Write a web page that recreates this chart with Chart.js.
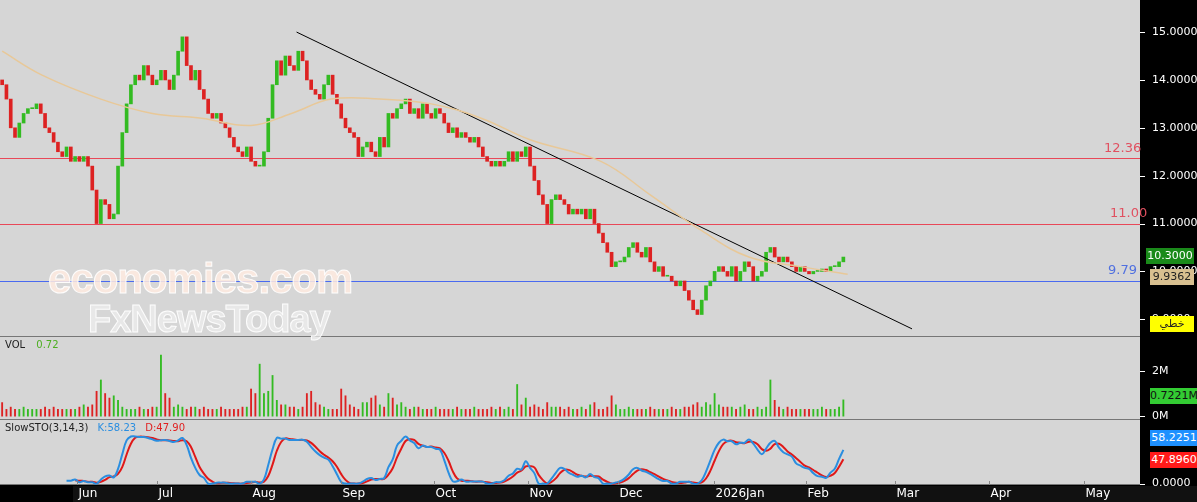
<!DOCTYPE html>
<html><head><meta charset="utf-8">
<script src="https://cdn.jsdelivr.net/npm/chart.js@4"></script>
<style>
body{margin:0;background:#000;width:1197px;height:502px;overflow:hidden;font-family:Tahoma,"DejaVu Sans",sans-serif;position:relative}
canvas{position:absolute;left:0}
.lab{position:absolute;font-size:12px;white-space:nowrap}
.box{position:absolute;left:1146px;width:48px;height:16px;font-size:11px;line-height:16px;text-align:center}
.wm{position:absolute;font-family:"Liberation Sans",Arial,sans-serif;font-weight:bold;color:rgba(255,235,225,0.85);-webkit-text-stroke:1px rgba(255,255,255,0.9);letter-spacing:-1px}
</style></head><body>
<canvas id="c1" width="1197" height="337" style="top:0"></canvas>
<canvas id="c2" width="1197" height="83" style="top:337px"></canvas>
<canvas id="c3" width="1197" height="82" style="top:420px"></canvas>
<div class="wm" style="left:48px;top:255px;font-size:42px">economies.com</div>
<div class="wm" style="left:88px;top:298px;font-size:38px;color:rgba(240,240,240,0.7)">FxNewsToday</div>
<div class="lab" style="left:1104px;top:140px;color:#e05060;font-size:13px">12.36</div>
<div class="lab" style="left:1110px;top:205px;color:#e05060;font-size:13px">11.00</div>
<div class="lab" style="left:1108px;top:262px;color:#5070e0;font-size:13px">9.79</div>
<div class="box" style="top:248px;background:#1a8a1a;color:#fff">10.3000</div>
<div class="box" style="top:269px;background:#d8c090;color:#222;left:1150px;width:44px">9.9362</div>
<div class="box" style="top:316px;background:#ffff00;color:#222;left:1150px;width:44px">خطي</div>
<div class="lab" style="left:5px;top:339px;color:#222;font-size:10px">VOL <span style="color:#4caf20;margin-left:8px">0.72</span></div>
<div class="box" style="top:388px;background:#33cc33;color:#111;left:1150px">0.7221M</div>
<div class="lab" style="left:5px;top:422px;color:#222;font-size:10px">SlowSTO(3,14,3) <span style="color:#2a8ee0;margin-left:6px">K:58.23</span> <span style="color:#e02020;margin-left:6px">D:47.90</span></div>
<div class="box" style="top:430px;background:#1e90ff;color:#fff;left:1150px">58.2251</div>
<div class="box" style="top:452px;background:#ff1a1a;color:#fff;left:1150px">47.8960</div>
<script>
const closes=[13.9,13.6,13.0,12.8,13.1,13.3,13.4,13.4,13.5,13.3,
13.0,12.9,12.7,12.5,12.4,12.6,12.3,12.4,12.3,12.4,
12.2,11.7,11.0,11.5,11.4,11.1,11.2,12.2,12.9,13.5,
13.9,14.1,14.0,14.3,14.1,13.9,14.0,14.2,14.0,13.8,
14.1,14.6,14.9,14.3,14.0,14.2,13.8,13.6,13.3,13.2,
13.3,13.1,13.0,12.8,12.6,12.5,12.4,12.6,12.3,12.2,
12.2,12.5,13.2,13.9,14.4,14.1,14.5,14.3,14.2,14.6,
14.4,14.0,13.8,13.7,13.6,13.9,14.1,13.7,13.5,13.2,
13.0,12.9,12.8,12.4,12.6,12.7,12.5,12.4,12.8,12.6,
13.3,13.2,13.4,13.5,13.6,13.3,13.4,13.2,13.5,13.3,
13.2,13.4,13.3,13.1,12.9,13.0,12.8,12.9,12.8,12.7,
12.8,12.6,12.4,12.3,12.2,12.3,12.2,12.3,12.5,12.3,
12.5,12.4,12.6,12.2,11.9,11.6,11.4,11.0,11.5,11.6,
11.5,11.4,11.2,11.3,11.2,11.3,11.1,11.3,11.0,10.8,
10.6,10.4,10.1,10.2,10.2,10.3,10.5,10.6,10.4,10.3,
10.5,10.2,10.0,10.1,9.9,9.9,9.8,9.7,9.8,9.6,
9.4,9.2,9.1,9.4,9.7,9.8,10.0,10.1,10.0,9.9,
10.1,9.8,10.0,10.2,10.1,9.8,9.9,10.0,10.4,10.5,
10.3,10.2,10.3,10.2,10.1,10.0,10.1,10.0,9.95,10.0,
10.0,10.05,10.0,10.1,10.1,10.2,10.3];
const firstOpen=14.0;
const volumes=[0.6,0.3,0.4,0.3,0.3,0.4,0.3,0.3,0.3,0.3,
0.4,0.3,0.4,0.3,0.3,0.3,0.3,0.3,0.4,0.5,
0.4,0.5,1.1,1.6,1.0,0.8,0.9,0.7,0.4,0.3,
0.3,0.3,0.4,0.3,0.3,0.4,0.4,2.7,1.0,0.8,
0.4,0.5,0.4,0.3,0.4,0.4,0.3,0.4,0.3,0.3,
0.3,0.4,0.3,0.3,0.3,0.3,0.4,0.4,1.2,1.0,
2.3,1.0,1.1,1.8,0.7,0.5,0.5,0.4,0.4,0.3,
0.4,1.0,1.1,0.6,0.5,0.4,0.3,0.3,0.3,1.2,
0.9,0.5,0.4,0.3,0.6,0.6,0.8,0.9,0.5,0.4,
1.0,0.8,0.5,0.6,0.4,0.3,0.4,0.4,0.3,0.3,
0.3,0.4,0.3,0.3,0.3,0.3,0.4,0.3,0.3,0.3,
0.4,0.3,0.3,0.3,0.4,0.3,0.4,0.3,0.4,0.3,
1.4,0.5,0.8,0.4,0.5,0.4,0.3,0.6,0.4,0.4,
0.4,0.3,0.4,0.3,0.3,0.4,0.3,0.5,0.6,0.3,
0.3,0.4,0.9,0.5,0.3,0.3,0.4,0.3,0.3,0.3,
0.3,0.4,0.3,0.3,0.3,0.3,0.4,0.3,0.3,0.4,
0.4,0.5,0.6,0.4,0.6,0.5,1.0,0.5,0.4,0.4,
0.4,0.3,0.4,0.5,0.3,0.3,0.4,0.3,0.4,1.6,
0.7,0.4,0.3,0.4,0.3,0.3,0.3,0.3,0.3,0.3,
0.3,0.4,0.3,0.3,0.3,0.4,0.72];
const maIdx=[0,9.3,23,35,46.5,58,67.4,76.7,88,100,111.6,123,139.5,151,163,174,186,197];
const maVal=[14.6,14.1,13.6,13.3,13.2,13.05,13.3,13.6,13.6,13.5,13.2,12.75,12.3,11.6,10.85,10.3,10.1,9.94];
const trendIdx=[68.6,212];
const trendVal=[15.0,8.8];
const levelVals=[12.36,11.0,9.79];
const levelCols=['#e84858','#e84858','#4a6af0'];
const priceTicks=[9,10,11,12,13,14,15];
const monthIdx=[17.4,36,58,79,100.7,122.6,143.5,165.8,187.2,208,230,252];
const monthLab=['Jun','Jul','Aug','Sep','Oct','Nov','Dec','2026Jan','Feb','Mar','Apr','May'];

const opens=closes.map((c,i)=>i?closes[i-1]:firstOpen);
const up=closes.map((c,i)=>c>=opens[i]);
const GREEN='#33bb22',RED='#dd2222',BG='#d6d6d6';
const XMAX=1140/4.3;
const bgPlugin={id:'bg',beforeDraw(ch){const {ctx,chartArea:a}=ch;ctx.save();ctx.fillStyle='#000';ctx.fillRect(0,0,ch.width,ch.height);ctx.fillStyle=BG;ctx.fillRect(a.left,a.top,a.right-a.left,a.bottom-a.top);ctx.strokeStyle='#777';ctx.beginPath();ctx.moveTo(0,a.bottom-0.5);ctx.lineTo(a.right,a.bottom-0.5);ctx.stroke();ctx.restore();}};
const levelPlugin={id:'lv',beforeDatasetsDraw(ch){const {ctx,chartArea:a,scales}=ch;ctx.save();ctx.lineWidth=1;levelVals.forEach((v,i)=>{const p=Math.round(scales.y.getPixelForValue(v))+0.5;ctx.strokeStyle=levelCols[i];ctx.beginPath();ctx.moveTo(a.left,p);ctx.lineTo(a.right,p);ctx.stroke();});ctx.restore();}};
function xScale(){return {type:'linear',min:-0.5,max:XMAX,display:false,offset:false};}
function yScale(min,max,ticks,fmt){return {position:'right',min,max,afterFit(s){s.width=57;s.paddingTop=0;s.paddingBottom=0},grid:{display:false},border:{display:false},
 afterBuildTicks(s){s.ticks=ticks.map(v=>({value:v}))},
 ticks:{color:'#fff',font:{size:11,family:'Tahoma, DejaVu Sans'},padding:4,callback:fmt}};}
const common={responsive:false,animation:false,layout:{padding:0,autoPadding:false},plugins:{legend:{display:false},tooltip:{enabled:false}}};
const tickMark={id:'tm',afterDraw(ch){const {ctx,chartArea:a,scales}=ch;const y=scales.y;ctx.save();ctx.strokeStyle='#fff';y.ticks.forEach(t=>{const p=Math.round(y.getPixelForValue(t.value))+0.5;ctx.beginPath();ctx.moveTo(a.right,p);ctx.lineTo(a.right+5,p);ctx.stroke();});ctx.restore();}};

new Chart(document.getElementById('c1'),{type:'bar',data:{datasets:[
 {type:'line',data:maIdx.map((x,i)=>({x,y:maVal[i]})),borderColor:'#e8c898',borderWidth:1.5,pointRadius:0,tension:0.4},
 {type:'line',data:trendIdx.map((x,i)=>({x,y:trendVal[i]})),borderColor:'#000',borderWidth:1,pointRadius:0},
 {type:'bar',data:closes.map((c,i)=>({x:i,y:[opens[i],c===opens[i]?c+0.02:c]})),backgroundColor:up.map(u=>u?GREEN:RED),barThickness:3,borderWidth:0}
]},options:{...common,scales:{x:xScale(),y:yScale(8.63,15.67,priceTicks,v=>v.toFixed(4))}},plugins:[bgPlugin,levelPlugin,tickMark]});

new Chart(document.getElementById('c2'),{type:'bar',data:{datasets:[
 {data:volumes.map((v,i)=>({x:i,y:v})),backgroundColor:up.map(u=>u?GREEN:RED),barThickness:1.2,borderWidth:0}
]},options:{...common,scales:{x:xScale(),y:yScale(-0.17,3.5,[0,2],v=>v+'M')}},plugins:[bgPlugin,tickMark]});

// slow stochastic (3,14,3) derived from closes
const rawK=closes.map((c,i)=>{if(i<13)return null;const w=closes.slice(i-13,i+1);const lo=Math.min(...w),hi=Math.max(...w);return hi===lo?50:(c-lo)/(hi-lo)*100;});
const sma=(a,n)=>a.map((v,i)=>{const w=a.slice(Math.max(0,i-n+1),i+1);if(w.length<n||w.some(x=>x===null))return null;return w.reduce((s,x)=>s+x,0)/n;});
const K=sma(rawK,3),D=sma(K,3);
const monthPlugin={id:'mp',afterDraw(ch){const {ctx,chartArea:a,scales}=ch;ctx.save();ctx.fillStyle='#111';ctx.fillRect(73,a.bottom+1,ch.width-73,ch.height-a.bottom);ctx.fillStyle='#fff';ctx.strokeStyle='#888';ctx.font='12px Tahoma, DejaVu Sans';ctx.textBaseline='middle';
 monthIdx.forEach((m,i)=>{const p=Math.round(scales.x.getPixelForValue(m))+0.5;ctx.beginPath();ctx.moveTo(p,a.bottom-4);ctx.lineTo(p,a.bottom);ctx.stroke();ctx.fillText(monthLab[i],p+1,a.bottom+9);});ctx.restore();}};
new Chart(document.getElementById('c3'),{type:'line',data:{datasets:[
 {data:K.map((v,i)=>({x:i,y:v})),borderColor:'#2a8ee0',borderWidth:2,pointRadius:0,tension:0.4},
 {data:D.map((v,i)=>({x:i,y:v})),borderColor:'#e01818',borderWidth:2,pointRadius:0,tension:0.4}
]},options:{...common,layout:{padding:{bottom:17},autoPadding:false},scales:{x:xScale(),y:yScale(-3,135,[0],v=>v.toFixed(4))}},plugins:[bgPlugin,tickMark,monthPlugin]});
</script></body></html>
